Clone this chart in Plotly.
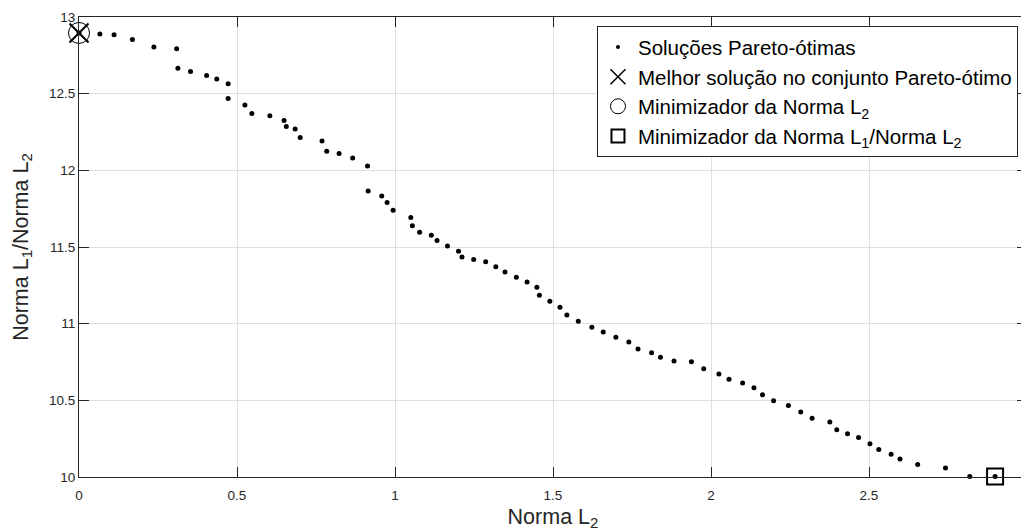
import plotly.graph_objects as go

# Pareto-optimal solutions: x = Norma L2, y = Norma L1/Norma L2
pareto_x = [0.000, 0.066, 0.111, 0.169, 0.237, 0.309, 0.313, 0.353, 0.404, 0.436,
            0.472, 0.472, 0.525, 0.547, 0.604, 0.649, 0.656, 0.684, 0.700, 0.769,
            0.784, 0.823, 0.866, 0.913, 0.915, 0.958, 0.975, 0.994, 1.050, 1.055,
            1.078, 1.115, 1.133, 1.166, 1.201, 1.212, 1.249, 1.287, 1.319, 1.348,
            1.384, 1.418, 1.449, 1.457, 1.490, 1.522, 1.544, 1.580, 1.623, 1.659,
            1.699, 1.740, 1.769, 1.812, 1.840, 1.883, 1.938, 1.977, 2.025, 2.057,
            2.100, 2.136, 2.163, 2.198, 2.245, 2.284, 2.320, 2.376, 2.398, 2.432,
            2.467, 2.503, 2.531, 2.570, 2.598, 2.654, 2.742, 2.819, 2.899]
pareto_y = [12.896, 12.889, 12.884, 12.854, 12.804, 12.793, 12.665, 12.645, 12.619, 12.595,
            12.565, 12.469, 12.426, 12.371, 12.356, 12.325, 12.286, 12.269, 12.214, 12.191,
            12.125, 12.110, 12.080, 12.029, 11.866, 11.832, 11.790, 11.740, 11.692, 11.638,
            11.597, 11.577, 11.542, 11.507, 11.473, 11.435, 11.418, 11.403, 11.372, 11.337,
            11.303, 11.272, 11.238, 11.186, 11.146, 11.107, 11.057, 11.016, 10.977, 10.946,
            10.911, 10.881, 10.835, 10.811, 10.781, 10.757, 10.752, 10.706, 10.672, 10.637,
            10.613, 10.582, 10.537, 10.497, 10.467, 10.424, 10.383, 10.358, 10.308, 10.282,
            10.258, 10.217, 10.180, 10.148, 10.117, 10.082, 10.058, 10.004, 10.004]

best_x = [0.000]
best_y = [12.896]
min_l2_x = [0.000]
min_l2_y = [12.896]
min_ratio_x = [2.899]
min_ratio_y = [10.004]

legend_names = [
    "Soluções Pareto-ótimas",
    "Melhor solução no conjunto Pareto-ótimo",
    "Minimizador da Norma L<sub>2</sub>",
    "Minimizador da Norma L<sub>1</sub>/Norma L<sub>2</sub>",
]

x_ticks = [0, 0.5, 1, 1.5, 2, 2.5, 3]
x_ticklabels = ["0", "0.5", "1", "1.5", "2", "2.5", "3"]
y_ticks = [10, 10.5, 11, 11.5, 12, 12.5, 13]
y_ticklabels = ["10", "10.5", "11", "11.5", "12", "12.5", "13"]

FONT = "Liberation Sans, Arial, Helvetica, sans-serif"
AX = "#262626"

fig = go.Figure()

# plotted marks (legend handled by dedicated entries below)
fig.add_trace(go.Scatter(x=pareto_x, y=pareto_y, mode="markers", showlegend=False, cliponaxis=False,
                         marker=dict(symbol="circle", size=5, color="black")))
fig.add_trace(go.Scatter(x=best_x, y=best_y, mode="markers", showlegend=False, cliponaxis=False,
                         marker=dict(symbol="x-thin", size=19, color="black",
                                     line=dict(width=2, color="black"))))
fig.add_trace(go.Scatter(x=min_l2_x, y=min_l2_y, mode="markers", showlegend=False, cliponaxis=False,
                         marker=dict(symbol="circle-open", size=21, color="black",
                                     line=dict(width=1, color="black"))))
fig.add_trace(go.Scatter(x=min_ratio_x, y=min_ratio_y, mode="markers", showlegend=False, cliponaxis=False,
                         marker=dict(symbol="square-open", size=16, color="black",
                                     line=dict(width=2, color="black"))))

# legend entries
leg_markers = [
    dict(symbol="circle", size=4, color="black"),
    dict(symbol="x-thin", size=15, color="black", line=dict(width=1.5, color="black")),
    dict(symbol="circle-open", size=15, color="black", line=dict(width=1, color="black")),
    dict(symbol="square-open", size=13, color="black", line=dict(width=2, color="black")),
]
for name, mk in zip(legend_names, leg_markers):
    fig.add_trace(go.Scatter(x=[None], y=[None], mode="markers", name=name, marker=mk))

# the page body adds an 8px offset; figure size/margins compensate for it
fig.update_layout(
    width=1021, height=524,
    margin=dict(l=71, r=2, t=9, b=55, autoexpand=False),
    paper_bgcolor="white", plot_bgcolor="white",
    font=dict(family=FONT, color=AX),
    legend=dict(
        x=0.5464, y=0.98, xanchor="left", yanchor="top",
        bgcolor="white", bordercolor=AX, borderwidth=1,
        font=dict(family=FONT, size=20.5, color="black"),
        tracegroupgap=0, itemsizing="trace",
    ),
)
fig.update_xaxes(
    range=[0, 3], tickvals=x_ticks, ticktext=x_ticklabels, automargin=False,
    showgrid=True, gridcolor="#dfdfdf", gridwidth=1, zeroline=False,
    showline=True, linecolor=AX, linewidth=1, mirror="ticks",
    ticks="inside", ticklen=10, tickcolor=AX, tickwidth=1,
    ticklabelstandoff=6, ticklabeloverflow="allow",
    tickfont=dict(family=FONT, size=13.5, color=AX),
    title=dict(text="Norma L<sub>2</sub>", font=dict(family=FONT, size=21.5, color=AX), standoff=6),
)
fig.update_yaxes(
    range=[10, 13], tickvals=y_ticks, ticktext=y_ticklabels, automargin=False,
    showgrid=True, gridcolor="#dfdfdf", gridwidth=1, zeroline=False,
    showline=True, linecolor=AX, linewidth=1, mirror="ticks",
    ticks="inside", ticklen=10, tickcolor=AX, tickwidth=1,
    ticklabeloverflow="allow",
    tickfont=dict(family=FONT, size=13.5, color=AX),
    title=dict(text="Norma L<sub>1</sub>/Norma L<sub>2</sub>", font=dict(family=FONT, size=21.5, color=AX), standoff=14),
)

fig.write_html("out.html")
